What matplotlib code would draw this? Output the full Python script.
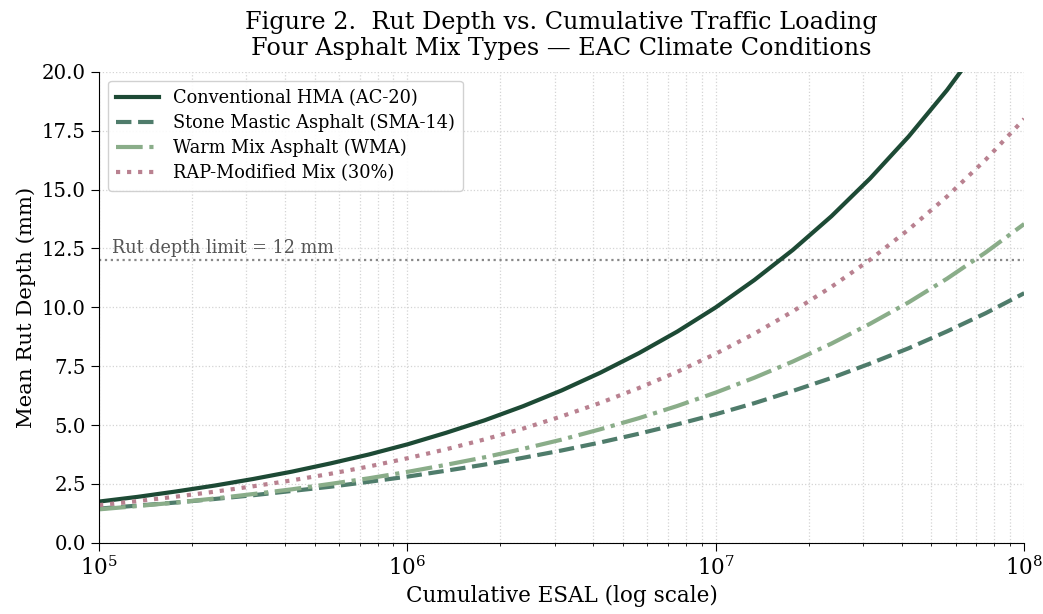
"""Rut depth vs cumulative ESAL for four asphalt mixes."""

import numpy as np
import matplotlib.pyplot as plt

plt.rcParams["font.family"] = "DejaVu Serif"
plt.rcParams["mathtext.fontset"] = "dejavuserif"

# ── data ───────────────────────────────────────────────────────────────────
ESAL_LOG10 = [5.0, 5.125, 5.25, 5.375, 5.5, 5.625, 5.75, 5.875,
              6.0, 6.125, 6.25, 6.375, 6.5, 6.625, 6.75, 6.875,
              7.0, 7.125, 7.25, 7.375, 7.5, 7.625, 7.75, 7.875, 8.0]

hma = [1.75, 1.95, 2.18, 2.43, 2.71, 3.02, 3.37, 3.75,
       4.18, 4.67, 5.20, 5.80, 6.47, 7.22, 8.05, 8.97,
       10.00, 11.16, 12.44, 13.87, 15.47, 17.25, 19.23, 21.45, 23.92]
sma = [1.45, 1.58, 1.71, 1.86, 2.02, 2.20, 2.38, 2.59,
       2.81, 3.06, 3.32, 3.61, 3.92, 4.26, 4.63, 5.03,
       5.46, 5.93, 6.45, 7.00, 7.61, 8.26, 8.98, 9.75, 10.60]
wma = [1.42, 1.56, 1.71, 1.88, 2.07, 2.27, 2.50, 2.74,
       3.01, 3.31, 3.63, 3.99, 4.38, 4.82, 5.29, 5.81,
       6.38, 7.01, 7.70, 8.46, 9.30, 10.21, 11.22, 12.33, 13.54]
rap = [1.60, 1.77, 1.96, 2.17, 2.40, 2.65, 2.93, 3.24,
       3.59, 3.97, 4.39, 4.85, 5.37, 5.94, 6.57, 7.26,
       8.03, 8.88, 9.83, 10.87, 12.02, 13.30, 14.71, 16.27, 18.00]

LABELS = ["Conventional HMA (AC-20)", "Stone Mastic Asphalt (SMA-14)",
          "Warm Mix Asphalt (WMA)", "RAP-Modified Mix (30%)"]
RUT_LIMIT = 12

esal = 10 ** np.array(ESAL_LOG10)

# ── styles ─────────────────────────────────────────────────────────────────
STYLES = [
    ("#1d4a35", "-"),
    ("#4f7c6b", "--"),
    ("#8aad89", "-."),
    ("#b98190", ":"),
]

fig = plt.figure(figsize=(10.43, 6.14), dpi=100)
ax = fig.add_axes([0.095, 0.116, 0.887, 0.767])

for series, label, (color, ls) in zip([hma, sma, wma, rap], LABELS, STYLES):
    ax.plot(esal, series, color=color, linestyle=ls, linewidth=3.0, label=label)

ax.axhline(RUT_LIMIT, color="#888888", linestyle=":", linewidth=1.6, zorder=1)
ax.text(1.1e5, RUT_LIMIT + 0.15, "Rut depth limit = 12 mm",
        fontsize=12.7, color="#555555", va="bottom", ha="left")

ax.set_xscale("log")
ax.set_xlim(1e5, 1e8)
ax.set_ylim(0, 20)
ax.set_yticks(np.arange(0, 20.1, 2.5))
ax.set_yticklabels([f"{v:.1f}" for v in np.arange(0, 20.1, 2.5)])

ax.grid(which="both", linestyle=":", color="#d4d4d4", linewidth=0.9)
ax.set_axisbelow(True)
ax.spines["top"].set_visible(False)
ax.spines["right"].set_visible(False)
ax.tick_params(axis="both", which="major", labelsize=14.2, length=6)
ax.tick_params(axis="x", which="major", labelsize=15.5)

ax.set_xlabel("Cumulative ESAL (log scale)", fontsize=15.5)
ax.set_ylabel("Mean Rut Depth (mm)", fontsize=15.3)
ax.set_title("Figure 2.  Rut Depth vs. Cumulative Traffic Loading\n"
             "Four Asphalt Mix Types — EAC Climate Conditions",
             fontsize=17.2, pad=12, linespacing=1.15)

ax.legend(loc="upper left", fontsize=12.8, framealpha=0.9,
          handlelength=2.4, borderpad=0.45, labelspacing=0.4)

fig.savefig("out.png", dpi=100, facecolor="white")
